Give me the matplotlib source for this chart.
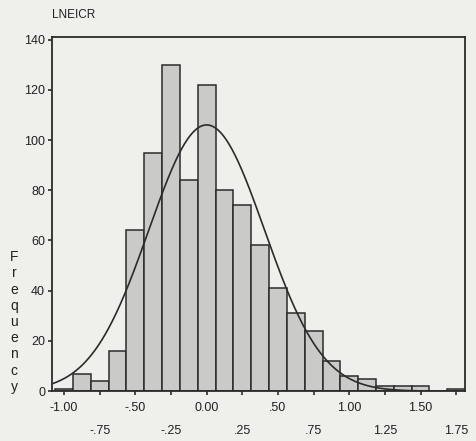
import numpy as np
import matplotlib.pyplot as plt

plt.rcParams['font.family'] = ['Liberation Sans Narrow', 'Liberation Sans', 'DejaVu Sans']

# histogram of LNEICR, bin width .125
bin_centers = [-1.0, -0.875, -0.75, -0.625, -0.5, -0.375, -0.25, -0.125, 0.0,
               0.125, 0.25, 0.375, 0.5, 0.625, 0.75, 0.875, 1.0, 1.125, 1.25,
               1.375, 1.5, 1.625, 1.75]
counts = [1, 7, 4, 16, 64, 95, 130, 84, 122,
          80, 74, 58, 41, 31, 24, 12, 6, 5, 2,
          2, 2, 0, 1]
bin_width = 0.125

# normal curve
curve_mean = 0.0
curve_sd = 0.405

xticks_top = [-1.0, -0.5, 0.0, 0.5, 1.0, 1.5]
xlabels_top = ['-1.00', '-.50', '0.00', '.50', '1.00', '1.50']
xticks_low = [-0.75, -0.25, 0.25, 0.75, 1.25, 1.75]
xlabels_low = ['-.75', '-.25', '.25', '.75', '1.25', '1.75']
yticks = [0, 20, 40, 60, 80, 100, 120, 140]

paper = '#efefec'
ink = '#2b2b2b'

fig = plt.figure(figsize=(4.77, 4.41), dpi=100, facecolor=paper)
ax = fig.add_axes([0.109, 0.113, 0.866, 0.803], facecolor=paper)

ax.bar(bin_centers, counts, width=bin_width, color='#cacac8',
       edgecolor=ink, linewidth=1.1, zorder=2)

xlim = (-1.085, 1.8125)
x = np.linspace(xlim[0], xlim[1], 400)
n_total = sum(counts)
y = n_total * bin_width / (curve_sd * np.sqrt(2 * np.pi)) * np.exp(-0.5 * ((x - curve_mean) / curve_sd) ** 2)
ax.plot(x, y, color=ink, linewidth=1.2, zorder=3)

ax.set_xlim(*xlim)
ax.set_ylim(0, 141)

ax.set_xticks(xticks_top)
ax.set_xticklabels(xlabels_top)
ax.set_xticks(xticks_low, minor=True)
ax.set_xticklabels(xlabels_low, minor=True)
ax.tick_params(axis='x', which='both', direction='out', length=3, width=1.2,
               color=ink, labelsize=9, labelcolor='#222222')
ax.tick_params(axis='x', which='major', pad=5)
ax.tick_params(axis='x', which='minor', pad=21)

ax.set_yticks(yticks)
ax.tick_params(axis='y', direction='out', length=3, width=1.2, color=ink,
               labelsize=9, labelcolor='#222222', pad=2)

for s in ax.spines.values():
    s.set_color(ink)
    s.set_linewidth(1.3)

fig.text(52 / 477, 1 - 15 / 441, 'LNEICR', fontsize=8.5, color='#222222',
         ha='left', va='center')
fig.text(14 / 477, 1 - 322 / 441, '\n'.join('Frequency'), fontsize=10,
         color='#222222', ha='center', va='center', linespacing=1.2)

fig.savefig('out.png', dpi=100, facecolor=paper)
